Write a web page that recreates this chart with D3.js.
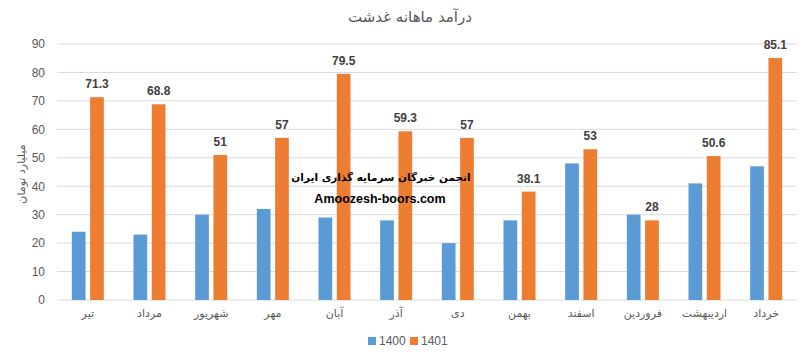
<!DOCTYPE html>
<html>
<head>
<meta charset="utf-8">
<script src="https://cdn.jsdelivr.net/npm/d3@7"></script>
<style>
  body { margin: 0; background: #fff; }
  text { font-family: "Liberation Sans", "DejaVu Sans", sans-serif; }
</style>
</head>
<body>
<svg id="chart" width="811" height="358"></svg>
<script>
// monthly revenue data
const months = ["تیر", "مرداد", "شهریور", "مهر", "آبان", "آذر", "دی", "بهمن", "اسفند", "فروردین", "اردیبهشت", "خرداد"];
const series = ["1400", "1401"];
const values1400 = [24, 23, 30, 32, 29, 28, 20, 28, 48, 30, 41, 47];
const values1401 = [71.3, 68.8, 51, 57, 79.5, 59.3, 57, 38.1, 53, 28, 50.6, 85.1];
const yTicks = [0, 10, 20, 30, 40, 50, 60, 70, 80, 90];
const colors = ["#5B9BD5", "#ED7D31"];

const svg = d3.select("#chart");
const margin = { top: 44, right: 14, bottom: 58, left: 57 };
const width = 811 - margin.left - margin.right;
const height = 358 - margin.top - margin.bottom;

const g = svg.append("g")
  .attr("transform", `translate(${margin.left}, ${margin.top})`);

const x0 = d3.scaleBand()
  .domain(months)
  .range([0, width])
  .padding(0);

const x1 = d3.scaleBand()
  .domain(series)
  .range([-16, 16])
  .paddingInner(0.25);

const y = d3.scaleLinear()
  .domain([0, 90])
  .range([height, 0]);

// gridlines
g.append("g")
  .selectAll("line")
  .data(yTicks)
  .join("line")
  .attr("x1", 0)
  .attr("x2", width)
  .attr("y1", d => y(d))
  .attr("y2", d => y(d))
  .attr("stroke", "#D9D9D9")
  .attr("stroke-width", 1);

// y tick labels
const yAxis = g.append("g")
  .call(d3.axisLeft(y).tickValues(yTicks).tickSize(0).tickPadding(12));
yAxis.select(".domain").remove();
yAxis.selectAll("text")
  .attr("fill", "#595959")
  .style("font-size", "12px");

// x axis labels
const xAxis = g.append("g")
  .attr("transform", `translate(0, ${height})`)
  .call(d3.axisBottom(x0).tickSize(0).tickPadding(9));
xAxis.select(".domain").remove();
xAxis.selectAll("text")
  .attr("fill", "#595959")
  .style("font-size", "11px")
  .style("font-family", "'DejaVu Sans', sans-serif");

const rows = months.map((m, i) => ({ month: m, vals: [values1400[i], values1401[i]] }));

const groups = g.selectAll(".grp")
  .data(rows)
  .join("g")
  .attr("class", "grp")
  .attr("transform", d => `translate(${x0(d.month) + x0.bandwidth() / 2}, 0)`);

groups.selectAll("rect")
  .data(d => d.vals.map((v, j) => ({ key: series[j], v: v, j: j })))
  .join("rect")
  .attr("x", d => x1(d.key))
  .attr("y", d => y(d.v))
  .attr("width", x1.bandwidth())
  .attr("height", d => height - y(d.v))
  .attr("fill", d => colors[d.j]);

// value labels on 1401 bars
groups.append("text")
  .attr("x", x1("1401") + x1.bandwidth() / 2)
  .attr("y", d => y(d.vals[1]) - 9)
  .attr("text-anchor", "middle")
  .attr("fill", "#404040")
  .style("font-size", "12px")
  .style("font-weight", "bold")
  .text(d => d.vals[1]);

// title
svg.append("text")
  .attr("x", 410)
  .attr("y", 22)
  .attr("text-anchor", "middle")
  .attr("fill", "#595959")
  .style("font-size", "15px")
  .style("font-family", "'DejaVu Sans', sans-serif")
  .text("درآمد ماهانه غدشت");

// y axis title
svg.append("text")
  .attr("transform", "translate(25, 174) rotate(-90)")
  .attr("text-anchor", "middle")
  .attr("fill", "#595959")
  .style("font-size", "11px")
  .style("font-family", "'DejaVu Sans', sans-serif")
  .text("میلیارد تومان");

// watermark
svg.append("text")
  .attr("x", 381)
  .attr("y", 181)
  .attr("text-anchor", "middle")
  .attr("fill", "#000")
  .style("font-size", "10.5px")
  .style("font-weight", "bold")
  .style("font-family", "'DejaVu Sans', sans-serif")
  .text("انجمن خبرگان سرمایه گذاری ایران");

svg.append("text")
  .attr("x", 380)
  .attr("y", 203)
  .attr("text-anchor", "middle")
  .attr("fill", "#000")
  .style("font-size", "12.5px")
  .style("font-weight", "bold")
  .text("Amoozesh-boors.com");

// legend
const legend = svg.append("g")
  .attr("transform", "translate(368, 341)");
series.forEach((s, i) => {
  const lg = legend.append("g").attr("transform", `translate(${i * 42}, 0)`);
  lg.append("rect")
    .attr("x", 0)
    .attr("y", -4)
    .attr("width", 8)
    .attr("height", 8)
    .attr("fill", colors[i]);
  lg.append("text")
    .attr("x", 11)
    .attr("y", 4)
    .attr("fill", "#595959")
    .style("font-size", "12px")
    .text(s);
});
</script>
</body>
</html>
